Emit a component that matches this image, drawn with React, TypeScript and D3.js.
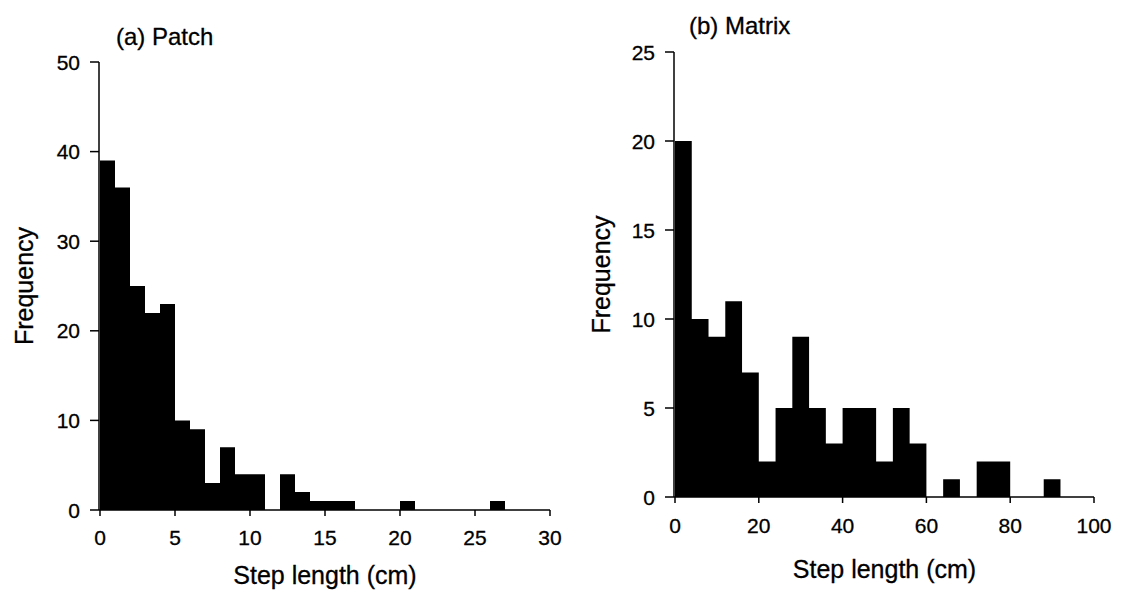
import React from "react";
import * as d3 from "d3";

// Step-length histograms: patch habitat (1 cm bins) and matrix habitat (4 cm bins)
const patchBinWidth = 1;
const patchCounts = [39, 36, 25, 22, 23, 10, 9, 3, 7, 4, 4, 0, 4, 2, 1, 1, 1, 0, 0, 0, 1, 0, 0, 0, 0, 0, 1, 0, 0, 0];
const patchXTicks = [0, 5, 10, 15, 20, 25, 30];
const patchYTicks = [0, 10, 20, 30, 40, 50];

const matrixBinWidth = 4;
const matrixCounts = [20, 10, 9, 11, 7, 2, 5, 9, 5, 3, 5, 5, 2, 5, 3, 0, 1, 0, 2, 2, 0, 0, 1, 0, 0];
const matrixXTicks = [0, 20, 40, 60, 80, 100];
const matrixYTicks = [0, 5, 10, 15, 20, 25];

const FONT = "'Liberation Sans', Arial, Helvetica, sans-serif";
const textStyle = { stroke: "#000", strokeWidth: 0.3 };

type PanelProps = {
  title: string;
  counts: number[];
  binWidth: number;
  xMax: number;
  yMax: number;
  xTicks: number[];
  yTicks: number[];
  x0: number;
  x1: number;
  y0: number;
  y1: number;
  titleX: number;
  titleY: number;
  yLabelX: number;
  xTickY: number;
  xLabelY: number;
};

function Panel(p: PanelProps) {
  const x = d3.scaleLinear().domain([0, p.xMax]).range([p.x0, p.x1]);
  const y = d3.scaleLinear().domain([0, p.yMax]).range([p.y0, p.y1]);
  // one step-shaped area for the whole histogram, so adjacent bars join without seams
  const pts = p.counts.map((c, i) => ({ lo: i * p.binWidth, c }));
  pts.push({ lo: p.counts.length * p.binWidth, c: 0 });
  const area = d3
    .area<{ lo: number; c: number }>()
    .x((d) => x(d.lo))
    .y0(y(0))
    .y1((d) => y(d.c))
    .curve(d3.curveStepAfter);
  return (
    <g>
      <path d={area(pts) || ""} fill="#000" />
      {/* y axis */}
      <line x1={p.x0 - 1} x2={p.x0 - 1} y1={y(p.yMax)} y2={y(0)} stroke="#000" strokeWidth={1.5} />
      {p.yTicks.map((t) => (
        <g key={"y" + t}>
          <line x1={p.x0 - 10} x2={p.x0 - 1} y1={y(t)} y2={y(t)} stroke="#000" strokeWidth={1.5} />
          <text
            x={p.x0 - 20}
            y={y(t)}
            textAnchor="end"
            dominantBaseline="central"
            fontFamily={FONT}
            fontSize={21}
            style={textStyle}
          >
            {t}
          </text>
        </g>
      ))}
      {/* x axis */}
      <line x1={p.x0 - 1} x2={x(p.xMax)} y1={y(0)} y2={y(0)} stroke="#000" strokeWidth={1.5} />
      {p.xTicks.map((t) => (
        <g key={"x" + t}>
          <line x1={x(t)} x2={x(t)} y1={y(0)} y2={y(0) + 6} stroke="#000" strokeWidth={1.5} />
          <text
            x={x(t)}
            y={p.xTickY}
            textAnchor="middle"
            fontFamily={FONT}
            fontSize={21}
            style={textStyle}
          >
            {t}
          </text>
        </g>
      ))}
      <text x={p.titleX} y={p.titleY} fontFamily={FONT} fontSize={24} style={textStyle}>
        {p.title}
      </text>
      <text
        x={(p.x0 + p.x1) / 2}
        y={p.xLabelY}
        textAnchor="middle"
        fontFamily={FONT}
        fontSize={25}
        style={textStyle}
      >
        Step length (cm)
      </text>
      <text
        transform={`translate(${p.yLabelX},${(p.y0 + p.y1) / 2}) rotate(-90)`}
        textAnchor="middle"
        dominantBaseline="central"
        fontFamily={FONT}
        fontSize={25}
        style={textStyle}
      >
        Frequency
      </text>
    </g>
  );
}

export default function App() {
  return (
    <svg
      width={1142}
      height={592}
      style={{ position: "absolute", left: 0, top: 0, background: "#fff" }}
    >
      <rect width={1142} height={592} fill="#fff" />
      <Panel
        title="(a) Patch"
        counts={patchCounts}
        binWidth={patchBinWidth}
        xMax={30}
        yMax={50}
        xTicks={patchXTicks}
        yTicks={patchYTicks}
        x0={100}
        x1={550}
        y0={510}
        y1={62}
        titleX={116}
        titleY={45}
        yLabelX={24}
        xTickY={545}
        xLabelY={584}
      />
      <Panel
        title="(b) Matrix"
        counts={matrixCounts}
        binWidth={matrixBinWidth}
        xMax={100}
        yMax={25}
        xTicks={matrixXTicks}
        yTicks={matrixYTicks}
        x0={675}
        x1={1094}
        y0={497}
        y1={52}
        titleX={689}
        titleY={34}
        yLabelX={601}
        xTickY={533}
        xLabelY={578}
      />
    </svg>
  );
}
